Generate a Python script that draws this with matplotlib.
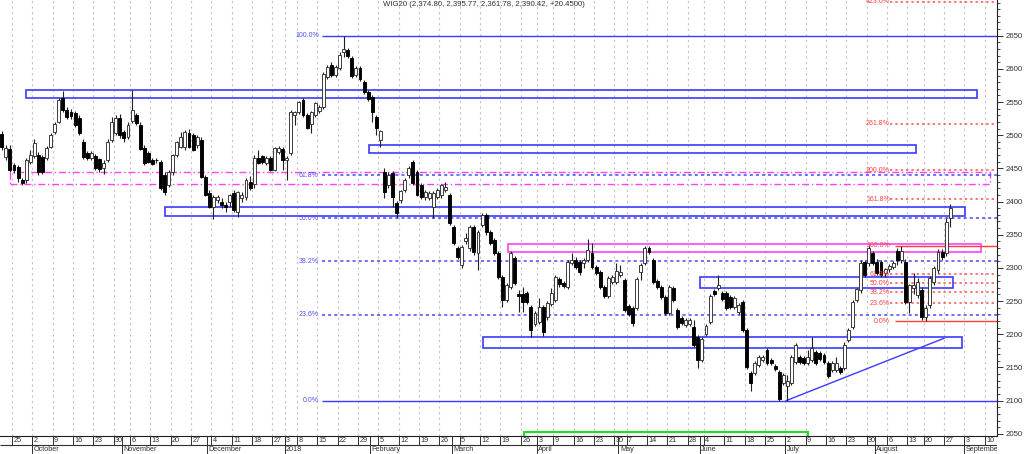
import matplotlib
matplotlib.use("Agg")
import matplotlib.pyplot as plt
import numpy as np
import pandas as pd
from matplotlib.patches import Rectangle

plt.rcParams['font.family'] = ['Liberation Sans', 'DejaVu Sans']

# ---------------- data ----------------
first_day = "2017-09-20"
last_axis_day = "2018-09-14"
holidays = ["2017-11-01", "2017-12-25", "2017-12-26", "2018-01-01", "2018-01-02",
            "2018-03-30", "2018-04-02", "2018-05-01", "2018-05-03", "2018-05-31",
            "2018-08-15"]

opens = [2502, 2467, 2479, 2455, 2452, 2432, 2432, 2460, 2468, 2470,
         2467, 2466, 2482, 2505, 2520, 2556, 2538, 2535, 2533, 2526,
         2490, 2473, 2466, 2468, 2464, 2450, 2463, 2493, 2503, 2526,
         2505, 2497, 2521, 2530, 2515, 2481, 2473, 2463, 2463, 2460,
         2440, 2425, 2445, 2470, 2482, 2482, 2503, 2500, 2485, 2493,
         2437, 2413, 2392, 2402, 2399, 2395, 2399, 2413, 2384, 2405,
         2407, 2430, 2427, 2466, 2468, 2458, 2466, 2448, 2475, 2479,
         2463, 2473, 2530, 2535, 2553, 2530, 2517, 2530, 2537, 2543,
         2588, 2606, 2591, 2601, 2626, 2628, 2616, 2591, 2601, 2580,
         2565, 2558, 2527, 2493, 2445, 2425, 2443, 2398, 2402, 2417,
         2440, 2460, 2445, 2425, 2407, 2405, 2392, 2407, 2410, 2418,
         2410, 2362, 2330, 2304, 2341, 2330, 2362, 2323, 2365, 2380,
         2354, 2342, 2323, 2286, 2252, 2271, 2315, 2260, 2261, 2262,
         2241, 2216, 2219, 2241, 2226, 2246, 2252, 2283, 2277, 2271,
         2307, 2312, 2309, 2307, 2312, 2323, 2301, 2294, 2271, 2258,
         2279, 2279, 2290, 2282, 2243, 2240, 2240, 2294, 2307, 2330,
         2312, 2280, 2271, 2256, 2232, 2270, 2237, 2225, 2214, 2216,
         2211, 2196, 2161, 2200, 2219, 2265, 2270, 2262, 2262, 2256,
         2241, 2234, 2249, 2207, 2142, 2142, 2154, 2161, 2176, 2161,
         2152, 2143, 2127, 2122, 2127, 2158, 2166, 2164, 2157, 2161,
         2173, 2172, 2169, 2157, 2146, 2146, 2149, 2149, 2191, 2211,
         2252, 2267, 2309, 2307, 2323, 2309, 2309, 2292, 2298, 2301,
         2325, 2312, 2309, 2249, 2270, 2259, 2267, 2226, 2244, 2279,
         2297, 2324, 2322, 2374.80]
highs = [2506, 2485, 2485, 2458, 2455, 2436, 2466, 2478, 2495, 2474,
         2470, 2484, 2504, 2520, 2556, 2567, 2542, 2540, 2536, 2530,
         2494, 2476, 2476, 2472, 2466, 2462, 2494, 2528, 2530, 2532,
         2508, 2520, 2568, 2534, 2520, 2485, 2476, 2466, 2466, 2462,
         2444, 2448, 2472, 2492, 2505, 2508, 2510, 2503, 2500, 2498,
         2440, 2418, 2410, 2410, 2405, 2400, 2412, 2418, 2416, 2415,
         2436, 2438, 2470, 2478, 2470, 2468, 2469, 2483, 2484, 2482,
         2468, 2538, 2537, 2552, 2556, 2533, 2537, 2550, 2545, 2595,
         2606, 2610, 2606, 2625, 2650, 2632, 2620, 2605, 2604, 2583,
         2568, 2560, 2530, 2508, 2451, 2445, 2446, 2401, 2418, 2436,
         2453, 2462, 2448, 2428, 2417, 2416, 2416, 2420, 2427, 2430,
         2413, 2365, 2333, 2334, 2352, 2365, 2365, 2357, 2383, 2383,
         2357, 2345, 2326, 2289, 2277, 2326, 2318, 2267, 2271, 2265,
         2244, 2235, 2255, 2244, 2250, 2270, 2289, 2287, 2280, 2312,
         2322, 2316, 2312, 2315, 2344, 2338, 2304, 2297, 2274, 2288,
         2289, 2307, 2305, 2285, 2246, 2243, 2286, 2307, 2333, 2333,
         2315, 2283, 2274, 2259, 2274, 2273, 2240, 2228, 2225, 2225,
         2222, 2199, 2196, 2215, 2261, 2268, 2289, 2265, 2265, 2259,
         2258, 2247, 2252, 2210, 2145, 2160, 2169, 2169, 2179, 2164,
         2155, 2146, 2142, 2138, 2169, 2187, 2169, 2167, 2176, 2196,
         2176, 2175, 2172, 2160, 2160, 2166, 2152, 2188, 2210, 2252,
         2270, 2312, 2312, 2334, 2326, 2314, 2312, 2300, 2306, 2310,
         2330, 2333, 2314, 2276, 2292, 2285, 2272, 2244, 2288, 2303,
         2328, 2328, 2375, 2395.77]
lows = [2478, 2462, 2445, 2443, 2430, 2425, 2428, 2456, 2465, 2440,
        2442, 2462, 2480, 2502, 2518, 2535, 2524, 2525, 2512, 2500,
        2464, 2462, 2463, 2447, 2445, 2441, 2460, 2490, 2500, 2496,
        2490, 2494, 2518, 2515, 2478, 2455, 2458, 2455, 2458, 2418,
        2410, 2422, 2440, 2467, 2480, 2478, 2480, 2476, 2480, 2436,
        2408, 2390, 2373, 2398, 2390, 2385, 2392, 2385, 2377, 2400,
        2403, 2418, 2420, 2456, 2456, 2455, 2446, 2446, 2472, 2447,
        2433, 2470, 2515, 2532, 2528, 2509, 2503, 2527, 2534, 2540,
        2585, 2588, 2588, 2598, 2618, 2617, 2586, 2588, 2582, 2562,
        2552, 2520, 2500, 2483, 2405, 2420, 2392, 2375, 2398, 2414,
        2436, 2425, 2408, 2404, 2403, 2402, 2375, 2404, 2406, 2415,
        2365, 2335, 2314, 2300, 2336, 2326, 2320, 2297, 2362, 2350,
        2335, 2320, 2283, 2241, 2248, 2268, 2274, 2234, 2234, 2245,
        2196, 2212, 2216, 2198, 2222, 2243, 2249, 2272, 2270, 2268,
        2304, 2298, 2290, 2300, 2309, 2298, 2289, 2268, 2255, 2255,
        2276, 2276, 2287, 2234, 2228, 2212, 2237, 2282, 2304, 2321,
        2276, 2268, 2253, 2229, 2229, 2249, 2208, 2214, 2211, 2213,
        2181, 2149, 2158, 2197, 2216, 2257, 2267, 2250, 2237, 2238,
        2238, 2231, 2204, 2148, 2115, 2139, 2151, 2158, 2154, 2154,
        2145, 2100, 2124, 2100, 2124, 2155, 2155, 2154, 2154, 2158,
        2154, 2160, 2155, 2134, 2143, 2143, 2140, 2146, 2188, 2208,
        2249, 2262, 2286, 2303, 2304, 2290, 2286, 2286, 2294, 2298,
        2305, 2308, 2245, 2232, 2261, 2255, 2222, 2220, 2240, 2275,
        2293, 2312, 2318, 2361.78]
closes = [2482, 2480, 2448, 2448, 2436, 2428, 2462, 2470, 2489, 2445,
          2445, 2481, 2500, 2517, 2553, 2538, 2527, 2529, 2515, 2503,
          2467, 2466, 2473, 2450, 2449, 2458, 2490, 2520, 2526, 2500,
          2496, 2515, 2538, 2518, 2479, 2458, 2460, 2457, 2462, 2420,
          2414, 2445, 2470, 2490, 2497, 2505, 2482, 2478, 2497, 2437,
          2410, 2392, 2407, 2407, 2395, 2392, 2410, 2387, 2414, 2410,
          2433, 2420, 2466, 2458, 2460, 2466, 2448, 2481, 2481, 2463,
          2466, 2535, 2535, 2550, 2530, 2511, 2535, 2548, 2543, 2592,
          2603, 2591, 2603, 2621, 2630, 2620, 2589, 2602, 2585, 2565,
          2555, 2535, 2511, 2506, 2415, 2440, 2407, 2383, 2416, 2433,
          2451, 2428, 2410, 2407, 2414, 2413, 2413, 2417, 2425, 2422,
          2368, 2338, 2317, 2331, 2345, 2362, 2324, 2354, 2380, 2354,
          2338, 2323, 2286, 2252, 2274, 2323, 2277, 2258, 2249, 2249,
          2207, 2232, 2241, 2203, 2247, 2262, 2286, 2276, 2273, 2309,
          2312, 2301, 2294, 2312, 2327, 2301, 2292, 2271, 2258, 2285,
          2286, 2295, 2294, 2237, 2231, 2217, 2283, 2304, 2330, 2324,
          2279, 2271, 2256, 2232, 2271, 2252, 2211, 2217, 2222, 2222,
          2184, 2161, 2193, 2212, 2258, 2260, 2274, 2253, 2240, 2241,
          2255, 2244, 2207, 2151, 2127, 2157, 2166, 2166, 2157, 2157,
          2148, 2103, 2139, 2130, 2166, 2184, 2158, 2157, 2166, 2179,
          2157, 2163, 2158, 2137, 2157, 2157, 2143, 2184, 2207, 2249,
          2268, 2307, 2289, 2330, 2307, 2292, 2289, 2298, 2303, 2307,
          2312, 2326, 2249, 2274, 2274, 2279, 2226, 2240, 2285, 2300,
          2324, 2316, 2369.97, 2390.42]

y_ticks = [2050, 2100, 2150, 2200, 2250, 2300, 2350, 2400, 2450, 2500, 2550, 2600, 2650]
month_names = ["October", "November", "December", "2018", "February", "March",
               "April", "May", "June", "July", "August", "September"]
title_text = "WIG20 (2,374.80, 2,395.77, 2,361.78, 2,390.42, +20.4500)"

# Fibonacci retracement drawn from the June low to the January high (blue)
blue_fib_low, blue_fib_high = 2100, 2650
blue_fib_ratios = [0.0, 0.236, 0.382, 0.5, 0.618, 1.0]
blue_fib_labels = ["0.0%", "23.6%", "38.2%", "50.0%", "61.8%", "100.0%"]
# Fibonacci extension from the August low to the August high (red)
red_fib_low, red_fib_high = 2220, 2333.6
red_fib_ratios = [0.0, 0.236, 0.382, 0.5, 0.618, 1.0, 1.618, 2.0, 2.618, 4.236]
red_fib_labels = ["0.0%", "23.6%", "38.2%", "50.0%", "61.8%", "100.0%",
                  "161.8%", "200.0%", "261.8%", "423.6%"]

# ---------------- calendar ----------------
cal = pd.bdate_range(first_day, last_axis_day)
cal = cal[~cal.isin(pd.to_datetime(holidays))]
n = len(opens)
xpos = np.arange(n)

W, H = 1024, 454
fig = plt.figure(figsize=(W / 100, H / 100), dpi=100)
fig.patch.set_facecolor("white")
ax = fig.add_axes([0, 18 / H, 997 / W, 436 / H])
XL = (-0.44, 244.5)
ax.set_xlim(*XL)
ax.set_ylim(2046.7, 2703.8)

# week / month starts
iso = cal.isocalendar()
wk = list(zip(iso.year, iso.week))
week_starts = [i for i in range(1, len(cal)) if wk[i] != wk[i - 1]]
month_starts = [i for i in range(1, len(cal)) if cal[i].month != cal[i - 1].month]

# vertical grid
for i in week_starts:
    ax.axvline(i - 0.5, color="#c4c4c4", lw=0.8, dashes=(2, 3), zorder=0)

# ---------------- drawings ----------------
BLUE = "#3a3aff"
RED = "#ff3c3c"
MAG = "#ff40ff"

def rect(x0, x1, y0, y1, color, lw=1.2, dashes=None, z=2):
    r = Rectangle((x0, y0), x1 - x0, y1 - y0, fill=False, edgecolor=color, lw=lw, zorder=z)
    if dashes is not None:
        r.set_linestyle((0, dashes))
    ax.add_patch(r)

rect(5.9, 239.6, 2555.4, 2568.2, BLUE)
rect(90.2, 224.6, 2473.2, 2485.3, BLUE)
rect(40.1, 236.7, 2377.9, 2391.5, BLUE)
rect(171.6, 233.7, 2269.3, 2286.8, BLUE)
rect(118.2, 235.9, 2179.8, 2195.5, BLUE)
rect(124.4, 240.6, 2323.6, 2335.6, MAG)
rect(2.0, 242.8, 2426.0, 2444.0, MAG, lw=1.0, dashes=(5, 2, 1, 2))
rect(128.3, 198.1, 2030.0, 2053.3, "#22dd22", lw=1.5, z=6)

# blue fib
for r_, lab in zip(blue_fib_ratios, blue_fib_labels):
    lv = blue_fib_low + r_ * (blue_fib_high - blue_fib_low)
    if r_ in (0.0, 1.0):
        ax.hlines(lv, 78.7, XL[1], color=BLUE, lw=1.0, zorder=2)
    else:
        ax.hlines(lv, 78.7, XL[1], color="#4848ff", lw=1.1, linestyles=[(0, (2, 2))], zorder=2)
    ax.text(77.9, lv, lab, ha="right", va="center", fontsize=5, color="#5050ff", zorder=7)

# red fib
for r_, lab in zip(red_fib_ratios, red_fib_labels):
    lv = red_fib_low + r_ * (red_fib_high - red_fib_low)
    if r_ in (0.0, 1.0):
        ax.hlines(lv, 219.5, XL[1], color=RED, lw=1.0, zorder=2)
    else:
        ax.hlines(lv, 218.3, XL[1], color="#ff5050", lw=1.1, linestyles=[(0, (1.5, 2))], zorder=2)
    ax.text(218.2, lv, lab, ha="right", va="center", fontsize=5, color="#ff4040", zorder=7)

# trend line
ax.plot([192.7, 231.5], [2100, 2194], color=BLUE, lw=1.0, zorder=2)

# ---------------- candles ----------------
o = np.array(opens, float); c = np.array(closes, float)
h = np.array(highs, float); l = np.array(lows, float)
up = c >= o
bb = np.minimum(o, c)
bh = np.maximum(np.abs(c - o), 0.9)
ax.vlines(xpos, l, h, color="#202020", lw=0.8, zorder=3)
ax.bar(xpos[up], bh[up], bottom=bb[up], width=0.72, color="white",
       edgecolor="#303030", linewidth=0.65, zorder=4)
ax.bar(xpos[~up], bh[~up], bottom=bb[~up], width=0.72, color="black",
       edgecolor="black", linewidth=0.65, zorder=4)

# ---------------- axes styling ----------------
for s in ("top", "left"):
    ax.spines[s].set_visible(False)
ax.spines["right"].set_color("#202020")
ax.spines["right"].set_linewidth(0.8)
ax.spines["bottom"].set_color("#202020")
ax.spines["bottom"].set_linewidth(0.8)
ax.set_xticks([])
ax.yaxis.tick_right()
ax.set_yticks(y_ticks)
ax.set_yticklabels([str(t) for t in y_ticks])
ax.set_yticks(np.arange(2050, 2701, 10), minor=True)
ax.tick_params(axis="y", which="major", length=4, width=0.7, labelsize=5.6,
               colors="#303030", pad=2)
ax.tick_params(axis="y", which="minor", length=2, width=0.6, colors="#303030")

fig.text(383 / W, 1 - 5 / H, title_text, ha="left", va="center", fontsize=5.6, color="#303030")

# ---------------- date rows ----------------
bx = fig.add_axes([0, 0, 997 / W, 18 / H])
bx.set_xlim(*XL)
bx.set_ylim(0, 18)
bx.axis("off")
bx.hlines(9, XL[0], XL[1], color="#303030", lw=0.8)
bx.vlines(XL[1] - 0.05, 0, 18, color="#303030", lw=0.8)
for i in week_starts:
    bx.vlines(i - 0.5, 9, 18, color="#303030", lw=0.7)
    bx.text(i - 0.5 + 0.35, 13.4, str(cal[i].day), ha="left", va="center",
            fontsize=5.2, color="#303030", clip_on=True)
for i, name in zip(month_starts, month_names):
    bx.vlines(i - 0.5, 0, 18, color="#303030", lw=0.7)
    bx.text(i - 0.5 + 0.35, 4.3, name, ha="left", va="center",
            fontsize=5.2, color="#303030", clip_on=True)

fig.savefig("out.png", dpi=100)
